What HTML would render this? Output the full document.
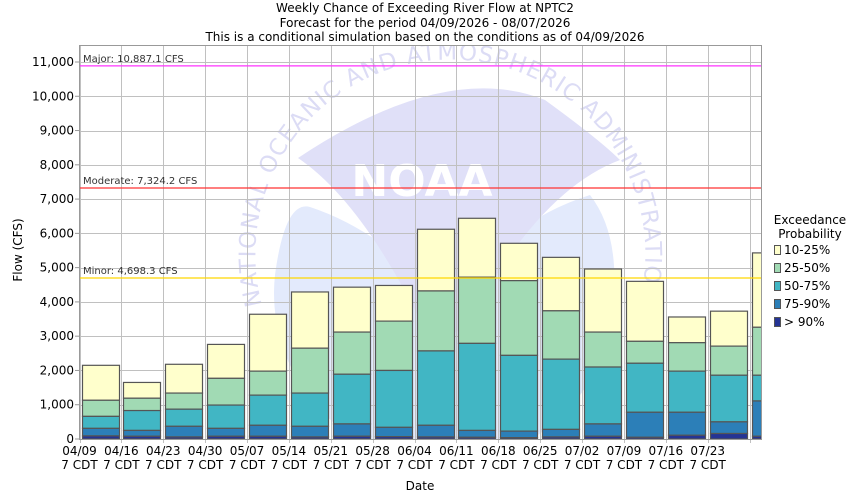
<!DOCTYPE html>
<html><head><meta charset="utf-8"><style>body{margin:0;background:#fff}svg{display:block}</style></head><body>
<svg width="850" height="500" xmlns="http://www.w3.org/2000/svg" font-family="DejaVu Sans, Liberation Sans, sans-serif">
<rect width="850" height="500" fill="#fff"/>
<g text-anchor="middle" font-size="12" fill="#000">
<text x="425" y="12">Weekly Chance of Exceeding River Flow at NPTC2</text>
<text x="425" y="27">Forecast for the period 04/09/2026 - 08/07/2026</text>
<text x="425" y="41">This is a conditional simulation based on the conditions as of 04/09/2026</text>
</g>
<defs><clipPath id="c"><rect x="79" y="45" width="683" height="395"/></clipPath>
<path id="arc" d="M262,305 A195,195 0 1 1 640,300"/></defs>
<g clip-path="url(#c)">
<path d="M275,275 Q285,200 310,207 Q380,230 445,300 Q510,220 590,195 Q625,240 610,330 A170,170 0 0 1 275,275Z" fill="#e3eafc"/>
<path d="M298,158 Q445,60 545,100 Q600,140 620,160 Q540,190 470,320 Q445,350 420,320 Q360,200 298,158Z" fill="#e0e0f8"/>
<text x="422" y="196" font-size="44" font-weight="bold" fill="#fff" text-anchor="middle">NOAA</text>
<text font-size="23" fill="#dcdcf5" letter-spacing="1"><textPath href="#arc">NATIONAL OCEANIC AND ATMOSPHERIC ADMINISTRATION</textPath></text>
</g>
<g stroke="#c0c0c0" stroke-width="1" id="grid"></g>
<g id="bars" clip-path="url(#c)"></g>
<g id="lines"></g>
<rect x="79.5" y="45.5" width="682" height="394" fill="none" stroke="#999"/>
<g id="ylab" font-size="12" text-anchor="end"></g>
<g id="xlab" font-size="12" text-anchor="middle"></g>
<text x="420" y="490" font-size="12" text-anchor="middle">Date</text>
<text transform="translate(22,250) rotate(-90)" font-size="12" text-anchor="middle">Flow (CFS)</text>
<g font-size="12">
<text x="810" y="224" text-anchor="middle">Exceedance</text>
<text x="810" y="238" text-anchor="middle">Probability</text>
<rect x="774.5" y="245.5" width="6" height="9" fill="#ffffcc" stroke="#555"/><text x="784" y="254">10-25%</text>
<rect x="774.5" y="263.5" width="6" height="9" fill="#a1dab4" stroke="#555"/><text x="784" y="272">25-50%</text>
<rect x="774.5" y="281.5" width="6" height="9" fill="#41b6c4" stroke="#555"/><text x="784" y="290">50-75%</text>
<rect x="774.5" y="299.5" width="6" height="9" fill="#2c7fb8" stroke="#555"/><text x="784" y="308">75-90%</text>
<rect x="774.5" y="317.5" width="6" height="9" fill="#253494" stroke="#555"/><text x="784" y="326">&gt; 90%</text>
</g>
<script>
var ns="http://www.w3.org/2000/svg";
function el(p,t,a,txt){var e=document.createElementNS(ns,t);for(var k in a)e.setAttribute(k,a[k]);if(txt)e.textContent=txt;document.getElementById(p).appendChild(e);}
function Y(v){return 439-v*0.034273;}
for(var i=1;i<=11;i++){var y=Math.round(Y(i*1000))+0.5;el("grid","line",{x1:79,x2:762,y1:y,y2:y});}
for(var i=0;i<=16;i++){var x=Math.round(79.5+41.88*i)+0.5;el("grid","line",{x1:x,x2:x,y1:45,y2:443});}
for(var i=0;i<=11;i++){el("ylab","text",{x:74,y:Y(i*1000)+4},i==0?"0":(i*1000).toLocaleString("en-US"));
el("ylab","line",{x1:75,x2:79,y1:Y(i*1000),y2:Y(i*1000),stroke:"#999"});}
var d=["04/09","04/16","04/23","04/30","05/07","05/14","05/21","05/28","06/04","06/11","06/18","06/25","07/02","07/09","07/16","07/23"];
d.forEach(function(s,i){var x=79.5+41.88*i;el("xlab","text",{x:x,y:455},s);el("xlab","text",{x:x,y:469},"7 CDT");});
var v=[[2150,1130,660,310,90],[1650,1190,830,250,80],[2180,1340,870,370,60],[2760,1770,990,310,80],[3640,1980,1280,400,80],[4290,2650,1340,370,60],[4430,3120,1890,440,80],[4480,3440,2000,340,70],[6120,4320,2570,400,60],[6440,4720,2790,250,50],[5710,4620,2440,230,40],[5300,3740,2330,280,60],[4960,3120,2100,440,80],[4600,2850,2210,780,50],[3560,2810,1980,780,110],[3730,2710,1860,500,160],[5430,3260,1860,1110,80]];
var col=["#ffffcc","#a1dab4","#41b6c4","#2c7fb8","#253494"];
v.forEach(function(b,i){var x=Math.round(79.5+41.88*i)+2.5;for(var j=0;j<5;j++){var t=Y(b[j]),bt=j<4?Y(b[j+1]):439;el("bars","rect",{x:x,y:t,width:37,height:bt-t,fill:col[j],stroke:"#555","stroke-width":1.2});}});
[[10887.1,"#ff33ff","Major: 10,887.1 CFS"],[7324.2,"#ff3333","Moderate: 7,324.2 CFS"],[4698.3,"#ffd700","Minor: 4,698.3 CFS"]].forEach(function(l){var y=Y(l[0]);el("lines","line",{x1:79,x2:762,y1:y,y2:y,stroke:l[1],"stroke-width":1.3});el("lines","text",{x:83,y:y-4,"font-size":10,fill:"#333"},l[2]);});
</script>
</svg>
</body></html>
